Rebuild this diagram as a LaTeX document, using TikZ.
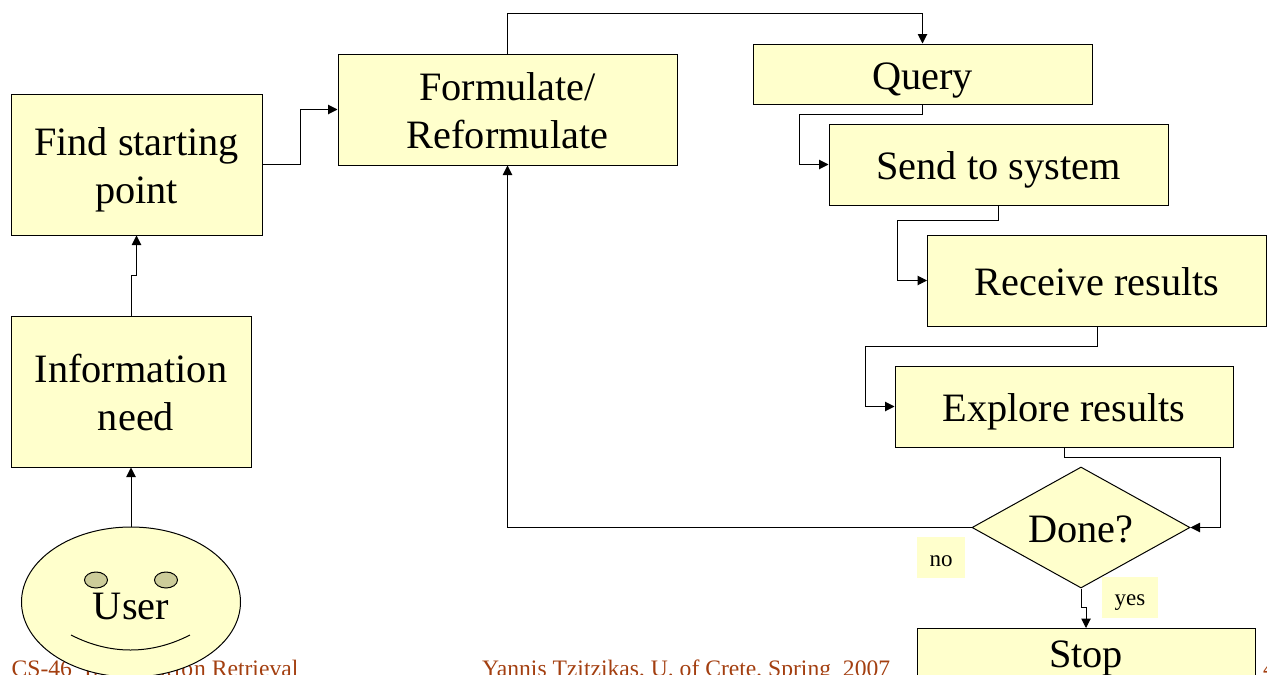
\documentclass[tikz,border=0pt]{standalone}
\usepackage{fontspec}
\setmainfont{Liberation Serif}
\usepackage{tikz}
\usetikzlibrary{arrows.meta}
\usetikzlibrary{shapes.geometric}
\definecolor{boxfill}{HTML}{FFFFCC}
\definecolor{eyefill}{HTML}{CCCC99}
\definecolor{footcolor}{HTML}{A33F10}
\newcommand{\linestrut}{\rule[-8.5pt]{0pt}{47pt}}
\newcommand{\tagstrut}{\rule[-3pt]{0pt}{23pt}}
\tikzset{
    mybox/.style={draw=black,fill=boxfill,line width=1pt,inner sep=0pt,align=center,font=\fontsize{40.3}{48}\selectfont},
    myflow/.style={draw=black,line width=1pt,-{Triangle[length=9.5pt,width=9.5pt]}},
    mytag/.style={fill=boxfill,inner sep=0pt,font=\fontsize{23}{28}\selectfont},
    myfoot/.style={anchor=base west,inner sep=0pt,text=footcolor,font=\fontsize{23.6}{28}\selectfont},
}
\begin{document}
\begin{tikzpicture}[x=1pt,y=-1pt]
    \useasboundingbox (0,0) rectangle (1267,675);
    \clip (0,0) rectangle (1267,675);
    % footer lies under the face
    \node[myfoot] (course) at (11.5,676) {CS-46\hspace{12pt}{\addfontfeature{LetterSpace=3.9}Information} Retrieval};
    \node[myfoot] (lecturer) at (482,676) {Yannis Tzitzikas, U. of Crete, Spring\ \ 2007};
    \node[myfoot] (pageno) at (1263,676) {4};
    \node[mybox,minimum width=251pt,minimum height=141pt] (find) at (136.5,164.5) {\linestrut Find starting\\\linestrut point};
    \node[mybox,minimum width=240pt,minimum height=151pt] (need) at (131,391.5) {\linestrut Information\\\linestrut\hspace*{10pt}need};
    \node[mybox,minimum width=339pt,minimum height=111pt] (form) at (507.5,109.5) {\linestrut Formulate/\\\linestrut Reformulate};
    \node[mybox,minimum width=339pt,minimum height=60pt] (query) at (922.5,74) {\rule[-7pt]{0pt}{47pt}Query};
    \node[mybox,minimum width=339pt,minimum height=81pt] (send) at (998.5,164.5) {\linestrut Send to system};
    \node[mybox,minimum width=339pt,minimum height=91pt] (receive) at (1097,280.5) {\linestrut Receive results};
    \node[mybox,minimum width=338pt,minimum height=81pt] (explore) at (1064,406.5) {\linestrut Explore results};
    \node[mybox,diamond,aspect=1.8,minimum width=218pt,minimum height=121pt] (done) at (1081,527.5) {\linestrut Done?};
    \node[mybox,minimum width=338pt,minimum height=49pt] (stop) at (1086,653) {\linestrut Stop};
    \node[mybox,ellipse,minimum width=219pt,minimum height=150pt] (user) at (131,602) {};
    \node[mybox,ellipse,fill=eyefill,minimum width=23pt,minimum height=16pt] (lefteye) at (96,580) {};
    \node[mybox,ellipse,fill=eyefill,minimum width=23pt,minimum height=16pt] (righteye) at (166,580) {};
    \node[font=\fontsize{40.3}{48}\selectfont,inner sep=0pt] (usertext) at (131,604) {\linestrut User};
    \coordinate (smileleft) at (71,635);
    \coordinate (smileright) at (190,635);
    \draw[line width=1pt] (smileleft) .. controls (110,655) and (151,655) .. (smileright);
    \node[mytag,minimum width=48pt,minimum height=41pt] (notag) at (941,557.5) {\tagstrut no};
    \node[mytag,minimum width=56pt,minimum height=41pt] (yestag) at (1130,597.5) {\tagstrut yes};
    \draw[myflow] (user.north) -- (need.south);
    \draw[myflow] (need.north) -- ++(0,-40) -| (find.south);
    \draw[myflow] (find.east) -- ++(38,0) |- (form.west);
    \draw[myflow] (form.north) -- ++(0,-40) -| (query.north);
    \draw[myflow] (query.south) |- ++(-123.5,10) |- (send.west);
    \draw[myflow] (send.south) |- ++(-101.5,15) |- (receive.west);
    \draw[myflow] (receive.south) |- ++(-232,20) |- (explore.west);
    \draw[myflow] (explore.south) |- ++(156,10) |- (done.east);
    \draw[myflow] (done.west) -| (form.south);
    \draw[myflow] (done.south) -- ++(0,19) -| (stop.north);
\end{tikzpicture}
\end{document}
